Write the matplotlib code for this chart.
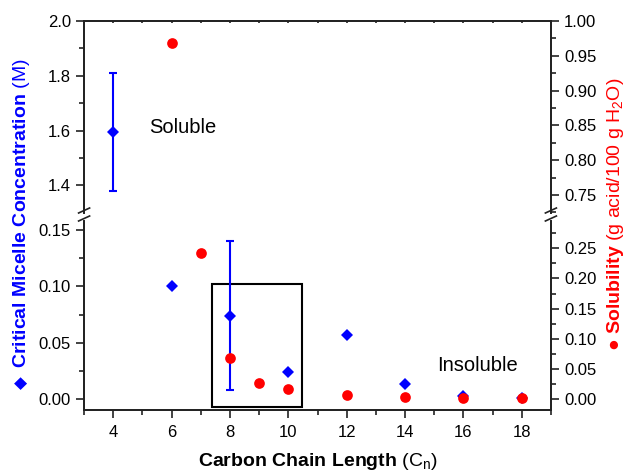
import matplotlib.pyplot as plt
from matplotlib.lines import Line2D
from matplotlib.patches import Rectangle
from matplotlib.ticker import MultipleLocator, FixedLocator

plt.rcParams['font.family'] = ['Liberation Sans', 'DejaVu Sans']
plt.rcParams['mathtext.fontset'] = 'custom'
plt.rcParams['mathtext.rm'] = 'Liberation Sans'
plt.rcParams['mathtext.bf'] = 'Liberation Sans:bold'
plt.rcParams['mathtext.it'] = 'Liberation Sans:italic'

# CMC data (blue diamonds)
chain_cmc = [4, 6, 8, 10, 12, 14, 16, 18]
cmc = [1.595, 0.100, 0.074, 0.024, 0.057, 0.013, 0.003, 0.0006]
cmc_err = [0.216, 0, 0.066, 0, 0, 0, 0, 0]

# solubility data (red circles)
chain_sol = [6, 7, 8, 9, 10, 12, 14, 16, 18]
solubility = [0.968, 0.242, 0.068, 0.027, 0.016, 0.006, 0.003, 0.001, 0.001]

x_ticks = [4, 6, 8, 10, 12, 14, 16, 18]

W, H = 631, 474
BLUE = '#0000FF'
RED = '#FF0000'


def fx(px):
    return px / W


def fy(py):
    return 1 - py / H


fig = plt.figure(figsize=(W / 100, H / 100), dpi=100)

x0, x1 = 84.1, 550.9
top0, top1 = 21, 213     # top panel pixel span
bot0, bot1 = 221, 410    # bottom panel pixel span

ax_top = fig.add_axes([fx(x0), fy(top1), fx(x1) - fx(x0), (top1 - top0) / H])
ax_bot = fig.add_axes([fx(x0), fy(bot1), fx(x1) - fx(x0), (bot1 - bot0) / H])
ax_top_r = ax_top.twinx()
ax_bot_r = ax_bot.twinx()

err_x = [c for c, e in zip(chain_cmc, cmc_err) if e > 0]
err_y = [v for v, e in zip(cmc, cmc_err) if e > 0]
err_e = [e for e in cmc_err if e > 0]

for ax in (ax_top, ax_bot):
    ax.errorbar(err_x, err_y, yerr=err_e, fmt='none', ecolor=BLUE,
                elinewidth=1.5, capsize=2.6, capthick=1.5, zorder=3)
    ax.plot(chain_cmc, cmc, 'D', color=BLUE, markersize=5.8, zorder=4,
            markeredgewidth=0)
    ax.set_xlim(3, 19)

for ax in (ax_top_r, ax_bot_r):
    ax.plot(chain_sol, solubility, 'o', color=RED, markersize=7.7,
            markeredgewidth=0, zorder=4)

ax_top.set_ylim(1.299, 2.0)
ax_top_r.set_ylim(0.724, 1.0)
ax_bot.set_ylim(-0.00976, 0.158)
ax_bot_r.set_ylim(-0.0182, 0.2953)

ax_top.yaxis.set_major_locator(FixedLocator([1.4, 1.6, 1.8, 2.0]))
ax_top.yaxis.set_minor_locator(FixedLocator([1.5, 1.7, 1.9]))
ax_top.yaxis.set_major_formatter(plt.FormatStrFormatter('%.1f'))
ax_top_r.yaxis.set_major_locator(MultipleLocator(0.05))
ax_top_r.yaxis.set_minor_locator(MultipleLocator(0.025))
ax_top_r.yaxis.set_major_formatter(plt.FormatStrFormatter('%.2f'))
ax_bot.yaxis.set_major_locator(MultipleLocator(0.05))
ax_bot.yaxis.set_minor_locator(MultipleLocator(0.025))
ax_bot.yaxis.set_major_formatter(plt.FormatStrFormatter('%.2f'))
ax_bot_r.yaxis.set_major_locator(MultipleLocator(0.05))
ax_bot_r.yaxis.set_minor_locator(MultipleLocator(0.025))
ax_bot_r.yaxis.set_major_formatter(plt.FormatStrFormatter('%.2f'))

ax_bot.set_xticks(x_ticks)
ax_bot.xaxis.set_minor_locator(MultipleLocator(1))

for ax in (ax_top, ax_bot, ax_top_r, ax_bot_r):
    for s in ax.spines.values():
        s.set_linewidth(1.3)
        s.set_color('#222222')
    ax.tick_params(which='major', direction='out', length=6, width=1.2,
                   labelsize=12, colors='#222222', labelcolor='black')
    ax.tick_params(which='minor', direction='out', length=3.5, width=1.2,
                   colors='#222222')

# top panel: no bottom spine, tiny ticks on top spine
for ax in (ax_top, ax_top_r):
    ax.spines['bottom'].set_visible(False)
ax_top.xaxis.set_ticks_position('top')
ax_top.set_xticks(x_ticks)
ax_top.xaxis.set_minor_locator(MultipleLocator(1))
ax_top.tick_params(axis='x', which='both', direction='in', length=1.5,
                   labeltop=False, labelbottom=False)
ax_top_r.tick_params(axis='x', which='both', top=False, bottom=False,
                     labeltop=False, labelbottom=False)

# bottom panel: no top spine
for ax in (ax_bot, ax_bot_r):
    ax.spines['top'].set_visible(False)
ax_bot.tick_params(axis='x', which='both', top=False)
ax_bot.tick_params(axis='x', which='major', pad=5)
ax_bot_r.tick_params(axis='x', which='both', top=False, bottom=False,
                     labelbottom=False)

# break marks on both spines
for xs in (x0, x1):
    for ys in (210.5, 218.5):
        fig.add_artist(Line2D([fx(xs - 5.5), fx(xs + 5.5)],
                              [fy(ys + 2.5), fy(ys - 2.5)],
                              color='#222222', lw=1.2))

# box and annotations
ax_bot.add_patch(Rectangle((7.39, -0.0068), 3.09, 0.1086, fill=False,
                           edgecolor='black', linewidth=1.5, zorder=2))
ax_top.text(5.22, 1.590, 'Soluble', fontsize=14.5, ha='left', va='baseline')
ax_bot.text(15.09, 0.0251, 'Insoluble', fontsize=14.5, ha='left',
            va='baseline')

# axis titles
fig.text(fx(22), fy(383), '◆', family='DejaVu Sans', rotation=90,
         ha='center', va='center', fontsize=12, color=BLUE)
fig.text(fx(22), fy(213), r'$\mathbf{Critical\ Micelle\ Concentration}$ (M)',
         rotation=90, ha='center', va='center', fontsize=14, color=BLUE)
fig.text(fx(615), fy(214), r'● $\mathbf{Solubility}$ (g acid/100 g H$_2$O)',
         rotation=90, ha='center', va='center', fontsize=14, color=RED)
fig.text(fx(317.5), fy(461), r'$\mathbf{Carbon\ Chain\ Length}$ (C$_\mathrm{n}$)',
         ha='center', va='center', fontsize=14, color='black')

fig.savefig('out.png', dpi=100)
